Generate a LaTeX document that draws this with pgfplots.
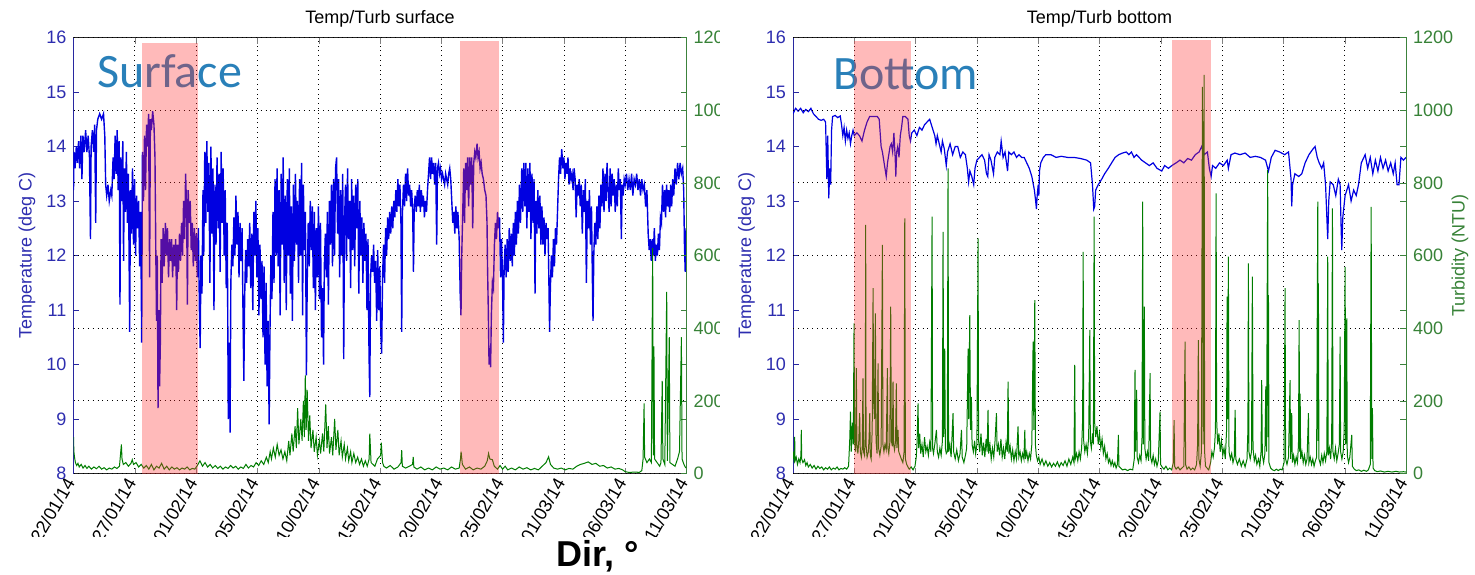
\documentclass[border=0pt]{standalone}
\usepackage{fontspec}
\setmainfont{Liberation Sans}
\newfontfamily\calibri{Carlito}
\usepackage{pgfplots}
\pgfplotsset{compat=1.18}

\definecolor{tblue}{RGB}{0,0,225}
\definecolor{tgreen}{RGB}{0,125,0}
\definecolor{axblue}{RGB}{40,40,160}
\definecolor{axgreen}{RGB}{60,130,60}
\definecolor{lblblue}{RGB}{45,45,175}
\definecolor{lblgreen}{RGB}{55,130,55}
\definecolor{annot}{RGB}{41,128,185}
\definecolor{pinkband}{RGB}{255,45,45}

\pgfplotsset{
  base/.style={scale only axis, width=306.5pt, height=218pt, xmin=0, xmax=48,
    anchor=south west,
    tick label style={font=\fontsize{9}{10}\selectfont},
    /pgf/number format/assume math mode=true,
    /pgf/number format/1000 sep={},
    major tick length=3pt, tick align=inside},
  tempaxis/.style={base, ymin=8, ymax=16,
    axis x line*=box, axis y line*=left,
    xtick={0,4.8,9.6,14.4,19.2,24,28.8,33.6,38.4,43.2,48},
    xticklabels={22/01/14,27/01/14,01/02/14,05/02/14,10/02/14,15/02/14,20/02/14,25/02/14,01/03/14,06/03/14,11/03/14},
    xticklabel style={rotate=60, anchor=east, text=black, font=\fontsize{9}{10}\selectfont},
    ytick={8,...,16}, yticklabel style={text=lblblue},
    y axis line style={axblue}, x axis line style={black!85},
    every major y tick/.append style={axblue},
    xmajorgrids, grid style={black, dotted},
    ylabel={Temperature (deg C)},
    every axis y label/.style={at={(axis description cs:-0.076,0.5)}, rotate=90, anchor=center,
      text=lblblue, font=\fontsize{9}{10}\selectfont},
    every axis title/.style={at={(0.5,1)}, anchor=base, yshift=7pt, font=\fontsize{9}{10}\selectfont}},
  turbaxis/.style={base, ymin=0, ymax=1200, hide x axis, axis y line*=right,
    ytick={0,200,...,1200}, yticklabel style={text=lblgreen},
    y axis line style={axgreen}, every major y tick/.append style={axgreen},
    ymajorgrids, grid style={black, dotted},
    extra y ticks={150,300,450,750,900,1050}, extra y tick labels={},
    extra y tick style={grid=none}},
}

\begin{document}
\begin{tikzpicture}
\path[use as bounding box] (0,0) rectangle (737.5pt,287pt);

% ---------- surface ----------
\begin{axis}[tempaxis, at={(36.75pt,50.25pt)}, title={Temp/Turb surface}]
\addplot[tblue, line width=0.7pt] coordinates {
(0.00,13.2)(0.04,13.9)(0.12,13.6)(0.22,14.0)(0.30,13.7)(0.40,14.1)(0.48,13.6)(0.58,14.2)(0.66,13.4)(0.74,14.2)
(0.84,13.9)(0.95,14.3)(1.05,13.9)(1.15,14.2)(1.25,13.8)(1.33,12.3)(1.38,14.0)(1.48,14.3)(1.58,13.9)(1.66,14.4)
(1.74,12.6)(1.80,14.3)(1.90,14.5)(2.05,14.6)(2.20,14.5)(2.35,14.6)(2.45,14.2)(2.52,13.3)(2.60,13.1)(2.70,13.3)
(2.80,13.0)(2.92,13.2)(3.00,13.1)(3.10,13.8)(3.18,13.4)(3.26,14.2)(3.34,13.5)(3.42,14.3)(3.50,13.2)(3.58,14.1)
(3.64,11.1)(3.70,13.8)(3.78,13.0)(3.86,14.1)(3.92,11.9)(3.98,13.6)(4.06,12.8)(4.14,13.9)(4.22,12.6)(4.30,13.5)
(4.40,10.6)(4.46,13.2)(4.54,12.4)(4.62,13.6)(4.70,12.2)(4.78,13.4)(4.86,12.0)(4.94,13.1)(5.02,12.5)(5.10,13.0)
(5.18,11.8)(5.26,12.8)(5.34,10.4)(5.40,13.9)(5.48,13.0)(5.56,14.2)(5.64,13.2)(5.72,14.4)(5.80,14.0)(5.88,14.6)
(5.96,11.6)(6.02,14.5)(6.10,14.3)(6.20,14.65)(6.30,14.4)(6.38,13.8)(6.44,12.2)(6.50,10.8)(6.56,12.0)(6.62,9.2)
(6.68,11.0)(6.74,9.6)(6.80,10.4)(6.86,12.3)(6.94,11.5)(7.02,12.5)(7.10,11.8)(7.20,12.6)(7.28,12.0)(7.36,12.5)
(7.44,11.6)(7.52,12.3)(7.60,11.9)(7.68,12.3)(7.76,11.6)(7.84,12.2)(7.92,11.8)(8.00,12.3)(8.08,11.0)(8.14,12.2)
(8.22,11.7)(8.30,12.4)(8.38,11.9)(8.46,12.6)(8.54,12.0)(8.62,13.0)(8.70,12.3)(8.78,13.5)(8.86,12.8)(8.92,11.1)
(8.98,13.2)(9.06,12.6)(9.14,13.0)(9.22,12.1)(9.30,12.6)(9.38,11.8)(9.46,12.5)(9.54,11.9)(9.62,12.4)(9.70,11.6)
(9.78,12.5)(9.86,11.0)(9.92,10.3)(9.98,12.0)(10.06,11.3)(10.14,13.2)(10.20,12.0)(10.28,13.9)(10.36,12.6)(10.44,14.1)
(10.52,12.8)(10.60,13.7)(10.68,11.5)(10.76,14.0)(10.84,12.4)(10.92,13.6)(11.00,11.0)(11.08,13.3)(11.16,12.2)(11.24,13.8)
(11.32,12.5)(11.40,13.5)(11.48,11.7)(11.56,13.9)(11.64,12.6)(11.72,13.6)(11.80,12.0)(11.88,13.2)(11.96,11.4)(12.04,12.6)
(12.12,9.0)(12.20,10.4)(12.26,8.75)(12.32,11.5)(12.40,12.2)(12.48,11.8)(12.56,12.7)(12.64,12.0)(12.72,13.1)(12.80,12.2)
(12.88,12.8)(12.96,11.6)(13.04,12.6)(13.12,11.9)(13.20,12.5)(13.28,10.8)(13.34,9.7)(13.40,11.2)(13.48,12.1)(13.56,11.5)
(13.64,12.3)(13.72,11.8)(13.80,12.6)(13.88,11.4)(13.96,12.4)(14.04,11.0)(14.12,12.8)(14.20,12.0)(14.28,13.0)(14.36,11.6)
(14.44,12.5)(14.52,10.9)(14.60,12.2)(14.68,11.2)(14.76,11.9)(14.84,10.5)(14.92,11.8)(15.00,10.0)(15.08,11.5)(15.16,9.6)
(15.24,10.8)(15.32,8.9)(15.38,10.5)(15.46,12.0)(15.54,11.2)(15.62,12.8)(15.70,11.5)(15.78,13.4)(15.86,12.0)(15.94,13.6)
(16.02,11.8)(16.10,13.2)(16.18,10.9)(16.26,13.5)(16.34,12.2)(16.42,13.8)(16.50,11.5)(16.58,13.1)(16.66,11.0)(16.74,13.4)
(16.82,12.0)(16.90,13.6)(16.98,11.3)(17.06,12.9)(17.14,10.8)(17.22,13.3)(17.30,11.9)(17.38,13.5)(17.46,12.2)(17.54,13.0)
(17.62,11.5)(17.70,13.4)(17.78,12.0)(17.86,13.7)(17.94,10.9)(18.00,13.3)(18.08,12.1)(18.16,12.8)(18.24,9.8)(18.30,11.5)
(18.38,12.6)(18.46,11.8)(18.54,13.0)(18.62,12.1)(18.70,12.9)(18.78,11.4)(18.86,12.8)(18.94,11.0)(19.02,12.5)(19.10,11.6)
(19.18,12.9)(19.26,11.2)(19.34,12.6)(19.42,10.5)(19.50,11.4)(19.58,10.0)(19.64,11.8)(19.72,12.4)(19.80,11.6)(19.88,12.8)
(19.96,11.1)(20.04,13.0)(20.12,12.2)(20.20,13.3)(20.28,11.8)(20.36,13.4)(20.44,12.0)(20.52,13.6)(20.60,13.8)(20.68,12.4)
(20.76,13.4)(20.84,11.6)(20.92,13.2)(21.00,12.0)(21.08,13.5)(21.16,10.1)(21.22,12.6)(21.30,13.3)(21.38,11.9)(21.46,13.6)
(21.54,12.3)(21.62,13.0)(21.70,11.4)(21.78,13.4)(21.86,12.1)(21.94,13.1)(22.02,11.8)(22.10,13.3)(22.18,12.5)(22.26,13.4)
(22.34,11.3)(22.42,13.0)(22.50,12.0)(22.58,12.7)(22.66,11.5)(22.74,12.6)(22.82,11.9)(22.90,12.4)(22.98,11.0)(23.06,12.3)
(23.14,10.2)(23.20,9.4)(23.26,11.6)(23.34,12.0)(23.42,11.7)(23.50,12.2)(23.58,11.5)(23.66,11.9)(23.74,10.8)(23.82,12.1)
(23.90,11.0)(23.98,11.8)(24.06,10.6)(24.13,10.2)(24.20,11.6)(24.28,12.2)(24.36,11.5)(24.44,12.5)(24.52,12.0)(24.60,12.7)
(24.68,12.3)(24.76,12.8)(24.84,12.4)(24.92,12.9)(25.00,12.5)(25.08,13.0)(25.16,12.7)(25.24,13.2)(25.32,12.8)(25.40,13.4)
(25.48,12.9)(25.56,13.3)(25.64,12.6)(25.70,10.6)(25.76,12.8)(25.84,13.3)(25.92,12.9)(26.00,13.5)(26.08,13.0)(26.16,13.6)
(26.24,13.1)(26.32,13.3)(26.40,12.9)(26.48,13.2)(26.56,12.8)(26.62,11.7)(26.68,12.9)(26.76,13.1)(26.84,12.8)(26.92,13.2)
(27.00,12.9)(27.08,13.3)(27.16,12.8)(27.24,13.2)(27.32,12.9)(27.40,13.1)(27.48,12.7)(27.56,13.0)(27.64,12.8)(27.72,13.2)
(27.80,13.5)(27.88,13.8)(27.96,13.4)(28.04,13.8)(28.12,13.5)(28.20,13.7)(28.28,13.3)(28.36,13.7)(28.44,12.2)(28.50,13.6)
(28.58,13.7)(28.66,13.5)(28.74,13.6)(28.82,13.4)(28.90,13.5)(28.98,13.4)(29.06,13.3)(29.14,13.5)(29.22,13.4)(29.30,13.3)
(29.38,13.5)(29.46,13.6)(29.54,13.4)(29.62,13.0)(29.70,12.6)(29.78,12.8)(29.86,12.4)(29.94,12.9)(30.02,12.5)(30.10,12.8)
(30.20,12.3)(30.28,11.3)(30.34,10.9)(30.40,12.0)(30.48,12.8)(30.56,13.6)(30.62,12.6)(30.70,13.7)(30.78,13.2)(30.86,13.8)
(30.94,12.9)(31.02,13.8)(31.10,13.3)(31.18,13.8)(31.26,12.5)(31.34,13.7)(31.42,13.9)(31.50,13.8)(31.60,14.05)(31.68,13.8)
(31.76,13.9)(31.84,13.6)(31.92,13.7)(32.00,13.5)(32.10,13.4)(32.20,13.2)(32.30,13.1)(32.38,12.6)(32.42,11.8)(32.48,11.0)
(32.54,10.0)(32.60,10.3)(32.66,9.95)(32.72,10.9)(32.80,11.5)(32.88,11.4)(32.96,12.2)(33.04,12.6)(33.12,12.3)(33.20,12.8)
(33.28,12.5)(33.36,12.7)(33.44,11.6)(33.52,12.3)(33.60,11.5)(33.66,10.4)(33.72,11.8)(33.80,12.2)(33.88,11.6)(33.96,12.3)
(34.04,11.7)(34.12,12.5)(34.20,11.9)(34.28,12.4)(34.36,11.8)(34.44,12.6)(34.52,12.0)(34.60,12.8)(34.68,12.2)(34.76,13.0)
(34.84,12.4)(34.92,13.3)(35.00,12.6)(35.10,13.6)(35.18,12.8)(35.26,13.7)(35.34,12.9)(35.42,13.7)(35.50,12.5)(35.58,13.6)
(35.66,12.8)(35.74,13.7)(35.82,12.3)(35.90,13.5)(35.98,12.6)(36.06,13.4)(36.14,11.3)(36.20,13.0)(36.28,12.4)(36.36,13.2)
(36.44,12.5)(36.52,13.1)(36.60,12.2)(36.68,12.9)(36.76,12.2)(36.84,12.7)(36.92,12.0)(37.00,12.6)(37.08,12.3)(37.16,12.5)
(37.22,11.6)(37.28,10.6)(37.34,11.4)(37.42,12.0)(37.50,11.6)(37.58,12.3)(37.66,11.8)(37.74,12.5)(37.82,12.2)(37.90,12.8)
(37.98,13.4)(38.06,13.8)(38.14,13.5)(38.23,13.95)(38.32,13.6)(38.40,13.8)(38.48,13.4)(38.56,13.7)(38.64,13.5)(38.72,13.8)
(38.80,13.3)(38.88,13.6)(38.96,13.4)(39.04,13.5)(39.12,13.2)(39.20,13.6)(39.28,13.4)(39.36,12.7)(39.44,13.3)(39.52,13.1)
(39.60,13.4)(39.68,12.9)(39.76,13.3)(39.84,12.4)(39.92,13.2)(40.00,12.8)(40.08,13.4)(40.16,11.5)(40.24,13.0)(40.32,12.5)
(40.40,13.2)(40.48,12.2)(40.56,12.9)(40.64,11.4)(40.68,10.8)(40.74,12.0)(40.82,12.6)(40.90,12.2)(40.98,12.9)(41.06,12.3)
(41.14,13.1)(41.22,12.5)(41.30,13.3)(41.38,12.9)(41.46,13.6)(41.54,12.8)(41.62,13.5)(41.70,13.0)(41.78,13.7)(41.86,13.2)
(41.94,12.8)(42.02,13.6)(42.10,12.9)(42.18,13.5)(42.26,13.1)(42.34,13.4)(42.42,12.8)(42.50,13.3)(42.58,12.9)(42.66,13.6)
(42.74,13.2)(42.82,13.4)(42.90,12.3)(42.96,13.3)(43.04,13.1)(43.12,13.4)(43.20,13.3)(43.30,13.5)(43.40,13.2)(43.50,13.4)
(43.60,13.2)(43.70,13.5)(43.80,13.1)(43.90,13.4)(44.00,13.3)(44.10,13.5)(44.20,13.2)(44.30,13.4)(44.40,13.1)(44.50,13.4)
(44.60,13.2)(44.70,13.3)(44.80,12.9)(44.90,13.2)(45.00,12.4)(45.08,12.1)(45.16,12.3)(45.24,11.9)(45.32,12.3)(45.40,12.0)
(45.48,12.5)(45.56,11.9)(45.64,12.2)(45.72,12.0)(45.80,12.4)(45.88,12.1)(45.96,12.7)(46.04,12.6)(46.12,13.3)(46.20,12.8)
(46.28,13.2)(46.36,12.7)(46.44,13.3)(46.52,12.9)(46.60,13.2)(46.68,12.8)(46.76,13.3)(46.84,12.9)(46.92,13.4)(47.00,13.1)
(47.10,13.6)(47.20,13.3)(47.30,13.7)(47.40,13.4)(47.50,13.7)(47.60,13.5)(47.70,13.6)(47.78,13.2)(47.84,12.2)(47.90,11.7)
(47.96,12.5)
};
\end{axis}

\begin{axis}[turbaxis, at={(36.75pt,50.25pt)}]
\addplot[tgreen, line width=0.5pt] coordinates {
(0.00,100)(0.03,60)(0.08,45)(0.15,30)(0.25,22)(0.35,28)(0.45,18)(0.6,25)(0.75,15)(0.9,22)(1.05,14)(1.2,20)
(1.4,12)(1.6,18)(1.8,13)(2.0,20)(2.2,12)(2.4,16)(2.6,10)(2.8,15)(3.0,12)(3.2,18)(3.4,14)(3.6,20)(3.7,60)
(3.75,80)(3.8,40)(3.9,25)(4.1,30)(4.3,20)(4.5,28)(4.6,38)(4.7,25)(4.9,30)(5.1,18)(5.3,25)(5.5,15)(5.7,22)
(5.9,12)(6.1,25)(6.3,10)(6.5,20)(6.7,15)(6.9,28)(7.1,12)(7.3,20)(7.5,10)(7.7,18)(7.9,12)(8.1,16)(8.3,10)
(8.5,15)(8.7,12)(8.9,18)(9.1,10)(9.3,14)(9.5,12)(9.7,22)(9.9,35)(10.1,20)(10.3,30)(10.5,18)(10.7,25)(10.9,15)
(11.1,22)(11.3,14)(11.5,20)(11.7,12)(11.9,18)(12.1,14)(12.3,22)(12.5,15)(12.7,20)(12.9,12)(13.1,18)(13.3,14)
(13.5,25)(13.7,15)(13.9,22)(14.1,18)(14.3,30)(14.5,22)(14.7,35)(14.9,25)(15.1,45)(15.25,30)(15.4,60)(15.5,40)
(15.65,70)(15.8,45)(15.95,80)(16.1,50)(16.25,65)(16.4,40)(16.55,60)(16.7,35)(16.85,90)(16.95,50)(17.1,110)
(17.2,60)(17.35,130)(17.45,70)(17.55,180)(17.65,80)(17.8,150)(17.9,90)(18.0,200)(18.08,100)(18.15,270)
(18.22,120)(18.3,230)(18.4,90)(18.5,160)(18.6,70)(18.75,120)(18.85,60)(19.0,100)(19.1,50)(19.25,90)(19.35,55)
(19.5,110)(19.6,60)(19.75,190)(19.85,70)(19.95,130)(20.05,55)(20.2,100)(20.3,50)(20.45,150)(20.55,65)(20.7,120)
(20.8,50)(20.95,90)(21.05,45)(21.2,80)(21.3,40)(21.45,70)(21.55,35)(21.7,60)(21.8,30)(21.95,55)(22.1,30)
(22.25,45)(22.4,25)(22.55,40)(22.7,20)(22.85,35)(23.0,20)(23.15,40)(23.2,110)(23.3,30)(23.45,25)(23.6,20)
(23.8,40)(24.05,50)(24.1,85)(24.2,30)(24.3,20)(24.5,15)(24.8,22)(25.1,12)(25.4,18)(25.65,30)(25.7,64)
(25.75,20)(26.0,15)(26.3,20)(26.55,25)(26.6,46)(26.65,18)(26.9,12)(27.2,18)(27.5,10)(27.8,15)(28.1,10)
(28.4,18)(28.7,12)(29.0,15)(29.3,10)(29.6,18)(29.9,12)(30.2,15)(30.3,40)(30.35,60)(30.45,25)(30.7,12)
(31.0,18)(31.3,10)(31.6,15)(31.9,12)(32.2,20)(32.4,35)(32.5,55)(32.6,40)(32.8,38)(32.95,20)(33.2,12)
(33.4,22)(33.6,12)(33.8,20)(34.0,10)(34.3,15)(34.6,10)(34.9,18)(35.2,12)(35.5,16)(35.8,10)(36.1,14)
(36.4,10)(36.7,20)(37.0,30)(37.2,46)(37.35,25)(37.6,15)(37.9,12)(38.2,15)(38.5,10)(38.8,14)(39.1,12)
(39.4,20)(39.7,25)(40.0,28)(40.3,32)(40.6,25)(40.9,28)(41.2,20)(41.5,22)(41.8,15)(42.1,18)(42.4,12)
(42.7,14)(43.0,10)(43.2,5)(43.5,3)(44.0,4)(44.3,3)(44.5,8)(44.6,40)(44.68,193)(44.72,45)(44.9,30)(45.1,40)
(45.25,30)(45.35,620)(45.4,50)(45.45,350)(45.5,40)(45.7,30)(45.9,20)(46.0,30)(46.1,255)(46.15,40)(46.3,25)
(46.45,500)(46.5,35)(46.65,375)(46.7,30)(46.9,25)(47.1,20)(47.3,40)(47.45,60)(47.6,375)(47.65,40)(47.8,25)
(47.95,15)
};
\node[font=\calibri\fontsize{24}{28}\selectfont, text=annot, anchor=base west, inner sep=0pt]
  at (rel axis cs:0.038,0.886) {Surface};
\fill[pinkband, fill opacity=0.33] (axis cs:5.34,0) rectangle (axis cs:9.73,1186);
\fill[pinkband, fill opacity=0.33] (axis cs:30.27,0) rectangle (axis cs:33.32,1189);
\end{axis}

% the right-hand panel covers the end of the left one
\fill[white] (360pt,20pt) rectangle (396pt,287pt);

% ---------- bottom ----------
\begin{axis}[tempaxis, at={(396.5pt,50.25pt)}, title={Temp/Turb bottom}]
\addplot[tblue, line width=0.6pt] coordinates {
(0.0,14.6)(0.2,14.7)(0.4,14.65)(0.6,14.7)(0.8,14.62)(1.0,14.68)(1.2,14.64)(1.4,14.7)(1.6,14.6)(1.8,14.55)
(2.0,14.5)(2.2,14.48)(2.4,14.5)(2.55,14.45)(2.65,13.4)(2.72,14.2)(2.8,13.05)(2.88,13.6)(2.95,13.3)(3.02,14.3)
(3.1,14.55)(3.3,14.57)(3.5,14.53)(3.7,14.56)(3.8,14.4)(3.9,14.2)(4.0,14.35)(4.1,14.1)(4.2,14.3)(4.3,14.15)
(4.4,14.25)(4.5,14.05)(4.6,14.2)(4.7,14.3)(4.8,14.2)(5.0,14.25)(5.2,14.2)(5.4,14.1)(5.6,14.3)(5.8,14.45)
(6.0,14.55)(6.3,14.55)(6.6,14.55)(6.75,14.5)(6.9,14.0)(7.0,13.9)(7.1,13.75)(7.2,13.6)(7.3,13.45)(7.4,13.7)
(7.5,13.85)(7.6,14.0)(7.7,14.05)(7.8,13.9)(7.9,14.25)(8.0,13.8)(8.05,13.45)(8.12,13.9)(8.2,14.0)(8.3,13.8)
(8.4,14.2)(8.5,14.35)(8.6,14.55)(8.8,14.55)(9.0,14.5)(9.1,14.2)(9.2,14.1)(9.3,14.25)(9.5,14.3)(9.7,14.2)
(9.9,14.35)(10.1,14.3)(10.3,14.4)(10.5,14.45)(10.7,14.5)(10.9,14.35)(11.1,14.2)(11.2,14.05)(11.3,14.2)(11.5,14.0)
(11.6,13.9)(11.7,14.1)(11.85,13.95)(12.0,13.65)(12.1,13.9)(12.3,14.05)(12.5,13.85)(12.7,14.0)(12.9,14.0)(13.1,13.8)
(13.3,13.9)(13.5,13.85)(13.65,13.6)(13.75,13.35)(13.85,13.55)(14.0,13.45)(14.15,13.3)(14.25,13.6)(14.4,13.75)(14.6,13.8)
(14.8,13.85)(15.0,13.75)(15.15,13.5)(15.25,13.45)(15.35,13.85)(15.5,13.75)(15.7,13.5)(15.8,13.8)(16.0,13.9)(16.2,13.85)
(16.3,14.1)(16.45,13.8)(16.6,13.9)(16.8,13.55)(16.9,13.9)(17.1,13.85)(17.3,13.9)(17.5,13.8)(17.7,13.85)(17.9,13.8)
(18.1,13.8)(18.3,13.7)(18.5,13.6)(18.7,13.45)(18.9,13.2)(19.0,13.0)(19.06,12.85)(19.12,13.1)(19.2,13.3)(19.25,13.1)
(19.3,13.55)(19.4,13.7)(19.6,13.8)(19.8,13.85)(20.2,13.85)(20.6,13.8)(21.0,13.82)(21.5,13.8)(22.0,13.8)(22.5,13.78)
(23.0,13.75)(23.3,13.7)(23.45,13.3)(23.55,12.85)(23.62,12.9)(23.7,13.2)(23.9,13.3)(24.17,13.4)(24.4,13.5)(24.69,13.6)
(24.95,13.7)(25.22,13.8)(25.5,13.85)(25.8,13.88)(26.1,13.9)(26.3,13.85)(26.5,13.9)(26.7,13.8)(26.9,13.85)(27.1,13.8)
(27.3,13.75)(27.6,13.7)(27.9,13.65)(28.2,13.7)(28.5,13.6)(28.87,13.55)(29.1,13.65)(29.4,13.6)(29.66,13.65)(30.0,13.7)
(30.3,13.75)(30.6,13.7)(30.9,13.78)(31.2,13.75)(31.5,13.85)(31.8,13.9)(32.0,14.0)(32.2,13.85)(32.45,13.9)(32.6,13.6)
(32.74,13.45)(32.85,13.65)(33.1,13.6)(33.4,13.7)(33.7,13.65)(34.0,13.75)(34.09,13.6)(34.3,13.85)(34.6,13.88)(35.0,13.85)
(35.4,13.88)(35.8,13.8)(36.2,13.82)(36.6,13.8)(37.0,13.75)(37.23,13.55)(37.45,13.8)(37.75,13.93)(38.1,13.9)(38.5,13.85)
(38.8,13.9)(39.0,13.4)(39.05,12.9)(39.12,13.3)(39.3,13.5)(39.6,13.45)(39.84,13.5)(40.1,13.7)(40.4,13.85)(40.7,13.95)
(40.88,14.0)(41.05,13.8)(41.2,13.7)(41.4,13.6)(41.55,13.7)(41.7,13.3)(41.87,12.3)(41.95,13.0)(42.06,13.35)(42.3,13.3)
(42.5,13.1)(42.7,13.4)(42.84,13.3)(42.92,12.5)(42.97,12.1)(43.05,12.7)(43.23,13.1)(43.5,13.3)(43.7,13.0)(43.9,13.2)
(44.1,13.1)(44.28,13.3)(44.5,13.7)(44.8,13.85)(45.0,13.6)(45.2,13.8)(45.4,13.5)(45.6,13.75)(45.8,13.55)(46.0,13.8)
(46.2,13.6)(46.4,13.75)(46.6,13.55)(46.8,13.7)(47.0,13.5)(47.15,13.7)(47.3,13.3)(47.45,13.3)(47.6,13.8)(47.8,13.75)
(48.0,13.8)
};
\end{axis}

\begin{axis}[turbaxis, at={(396.5pt,50.25pt)}, ylabel={Turbidity (NTU)},
  every axis y label/.style={at={(axis description cs:1.088,0.5)}, rotate=90, anchor=center,
    text=lblgreen, font=\fontsize{9}{10}\selectfont}]
\addplot[tgreen, line width=0.5pt] coordinates {
(0,40)(0.05,60)(0.1,30)(0.13,101)(0.16,35)(0.25,45)(0.35,25)(0.45,40)(0.55,30)(0.62,50)(0.65,120)(0.68,40)
(0.78,30)(0.9,38)(1.0,22)(1.1,30)(1.2,18)(1.35,25)(1.5,15)(1.65,22)(1.8,12)(1.95,20)(2.1,14)(2.25,18)(2.4,10)
(2.55,16)(2.7,12)(2.85,18)(3.0,10)(3.15,15)(3.3,12)(3.45,18)(3.6,10)(3.75,14)(3.9,12)(4.05,16)(4.2,12)(4.35,20)
(4.44,90)(4.5,170)(4.56,60)(4.65,140)(4.72,80)(4.78,413)(4.82,90)(4.9,60)(4.96,290)(5.0,80)(5.08,55)(5.15,90)
(5.22,166)(5.27,60)(5.35,45)(5.42,70)(5.48,262)(5.52,60)(5.6,50)(5.66,120)(5.69,684)(5.72,80)(5.8,45)(5.9,60)
(5.96,100)(6.01,166)(6.05,50)(6.12,40)(6.2,120)(6.27,510)(6.31,200)(6.38,150)(6.45,441)(6.5,90)(6.58,55)(6.66,303)
(6.7,70)(6.8,50)(6.9,75)(7.0,629)(7.04,80)(7.12,60)(7.2,80)(7.3,65)(7.39,290)(7.43,70)(7.5,55)(7.58,85)(7.65,459)
(7.7,90)(7.78,75)(7.83,253)(7.88,80)(7.95,65)(8.03,90)(8.09,248)(8.14,70)(8.22,120)(8.28,60)(8.38,50)(8.48,40)
(8.6,30)(8.7,60)(8.75,702)(8.8,40)(8.9,25)(9.0,18)(9.1,12)(9.25,18)(9.4,10)(9.55,20)(9.65,45)(9.72,90)(9.79,193)
(9.84,70)(9.92,110)(10.0,55)(10.1,80)(10.2,45)(10.3,100)(10.4,60)(10.5,75)(10.6,50)(10.7,85)(10.8,60)(10.89,707)
(10.93,70)(11.0,55)(11.1,80)(11.23,120)(11.3,60)(11.4,45)(11.5,70)(11.6,50)(11.7,90)(11.75,665)(11.8,100)(11.88,344)
(11.93,70)(12.0,55)(12.08,60)(12.14,840)(12.18,60)(12.28,80)(12.38,45)(12.53,166)(12.58,60)(12.7,40)(12.82,65)
(12.95,35)(13.08,55)(13.19,120)(13.25,45)(13.38,30)(13.5,50)(13.6,70)(13.71,344)(13.76,150)(13.84,436)(13.9,120)
(13.97,211)(14.02,80)(14.12,60)(14.22,90)(14.3,55)(14.4,80)(14.49,647)(14.53,90)(14.62,60)(14.72,110)(14.82,50)
(14.92,85)(15.02,45)(15.12,95)(15.2,60)(15.27,175)(15.32,55)(15.42,80)(15.52,40)(15.62,70)(15.72,45)(15.82,90)
(15.93,166)(15.98,60)(16.08,80)(16.18,50)(16.28,95)(16.38,45)(16.48,70)(16.58,40)(16.68,85)(16.78,60)(16.84,253)
(16.9,55)(17.0,75)(17.1,40)(17.2,65)(17.3,35)(17.4,60)(17.5,40)(17.62,130)(17.68,45)(17.78,60)(17.88,35)(17.98,55)
(18.08,40)(18.15,120)(18.2,40)(18.3,60)(18.4,35)(18.5,55)(18.6,40)(18.7,80)(18.8,363)(18.86,120)(18.93,477)(18.98,80)
(19.05,50)(19.15,35)(19.25,45)(19.35,25)(19.5,40)(19.65,22)(19.8,35)(19.95,20)(20.1,30)(20.25,18)(20.4,28)(20.55,20)
(20.7,32)(20.85,18)(21.0,30)(21.15,22)(21.3,35)(21.45,20)(21.6,40)(21.75,25)(21.9,45)(22.0,30)(22.06,299)(22.1,40)
(22.2,55)(22.3,35)(22.4,60)(22.5,40)(22.6,70)(22.68,150)(22.72,610)(22.76,90)(22.85,60)(22.95,80)(23.05,55)(23.15,100)
(23.24,395)(23.28,90)(23.36,70)(23.45,110)(23.52,80)(23.58,707)(23.62,140)(23.7,100)(23.8,130)(23.9,80)(24.0,110)
(24.1,70)(24.2,95)(24.3,55)(24.4,75)(24.5,40)(24.6,55)(24.7,30)(24.8,40)(24.9,22)(25.0,35)(25.1,20)(25.2,30)(25.3,15)
(25.4,25)(25.48,106)(25.52,20)(25.65,15)(25.8,10)(26.0,12)(26.2,8)(26.4,12)(26.6,10)(26.72,40)(26.78,285)(26.82,60)
(26.91,230)(26.95,45)(27.05,30)(27.15,50)(27.25,35)(27.33,100)(27.38,748)(27.43,80)(27.51,459)(27.55,70)(27.65,40)
(27.75,60)(27.85,35)(27.96,276)(28.0,45)(28.1,30)(28.2,50)(28.3,25)(28.4,40)(28.5,20)(28.6,35)(28.74,170)(28.78,25)
(28.9,18)(29.05,12)(29.2,20)(29.35,10)(29.5,15)(29.65,10)(29.78,30)(29.84,147)(29.88,20)(30.0,12)(30.15,18)(30.3,10)
(30.45,15)(30.6,20)(30.7,363)(30.74,25)(30.85,12)(31.0,18)(31.15,10)(31.3,15)(31.45,10)(31.6,25)(31.68,80)(31.74,367)
(31.78,40)(31.88,20)(31.98,60)(32.06,1064)(32.12,80)(32.19,1097)(32.23,60)(32.3,20)(32.42,15)(32.55,10)(32.7,30)
(32.8,60)(32.9,45)(33.0,70)(33.08,120)(33.13,771)(33.17,150)(33.25,80)(33.35,110)(33.45,60)(33.55,90)(33.65,50)
(33.75,70)(33.85,40)(33.95,120)(33.99,487)(34.04,150)(34.09,597)(34.14,60)(34.25,40)(34.35,55)(34.45,30)(34.55,45)
(34.62,175)(34.67,40)(34.8,25)(34.95,40)(35.1,20)(35.25,35)(35.4,18)(35.55,40)(35.62,120)(35.66,578)(35.7,60)
(35.8,40)(35.9,60)(35.97,542)(36.02,70)(36.12,35)(36.22,50)(36.32,25)(36.45,40)(36.55,20)(36.65,60)(36.7,257)
(36.75,50)(36.85,30)(36.95,55)(37.02,240)(37.08,60)(37.17,835)(37.2,100)(37.23,491)(37.27,30)(37.4,15)(37.55,10)
(37.7,8)(37.85,12)(38.0,8)(38.15,12)(38.3,10)(38.45,30)(38.53,510)(38.57,40)(38.68,25)(38.8,45)(38.92,257)(38.96,40)
(39.05,166)(39.1,30)(39.2,50)(39.3,25)(39.4,45)(39.5,30)(39.58,80)(39.63,422)(39.67,60)(39.71,220)(39.75,40)(39.85,60)
(39.95,30)(40.05,50)(40.15,25)(40.25,40)(40.36,166)(40.4,30)(40.5,45)(40.6,25)(40.7,40)(40.8,20)(40.9,35)(41.0,45)
(41.09,748)(41.12,90)(41.14,523)(41.18,40)(41.3,25)(41.4,50)(41.5,30)(41.6,55)(41.7,35)(41.8,60)(41.87,597)(41.91,50)
(42.0,70)(42.1,40)(42.18,90)(42.24,730)(42.28,60)(42.38,40)(42.48,70)(42.58,35)(42.68,55)(42.78,80)(42.84,377)
(42.88,60)(42.98,40)(43.08,60)(43.16,120)(43.23,569)(43.28,80)(43.36,427)(43.4,50)(43.5,30)(43.6,45)(43.75,106)
(43.8,20)(43.95,12)(44.1,8)(44.3,10)(44.5,6)(44.7,9)(44.9,6)(45.05,10)(45.2,25)(45.27,734)(45.32,40)(45.37,180)
(45.42,15)(45.55,8)(45.75,5)(46.0,7)(46.3,4)(46.6,6)(46.9,4)(47.2,6)(47.5,4)(47.8,5)(48.0,4)
};
\node[font=\calibri\fontsize{24}{28}\selectfont, text=annot, anchor=base west, inner sep=0pt]
  at (rel axis cs:0.065,0.88) {Bottom};
\fill[pinkband, fill opacity=0.33] (axis cs:4.78,0) rectangle (axis cs:9.27,1189);
\fill[pinkband, fill opacity=0.33] (axis cs:29.71,0) rectangle (axis cs:32.74,1192);
\end{axis}

% the slide is cut below the date labels
\fill[white] (0,0) rectangle (737.5pt,18.5pt);
\node[font=\bfseries\fontsize{18}{20}\selectfont, anchor=base west, inner sep=0pt] at (278pt,4pt) {Dir, °};
\end{tikzpicture}
\end{document}
